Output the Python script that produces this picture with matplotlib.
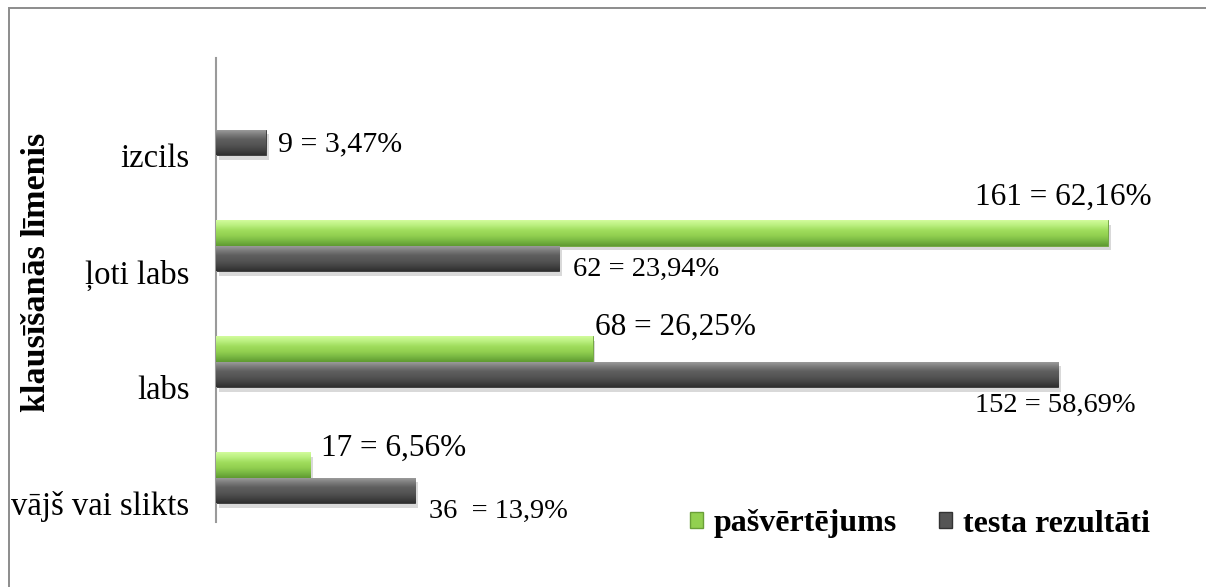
import numpy as np
import matplotlib.pyplot as plt
import matplotlib.patheffects as pe
from matplotlib.patches import Rectangle
from matplotlib.colors import LinearSegmentedColormap

categories = ['vājš vai slikts', 'labs', 'ļoti labs', 'izcils']
pasvertejums = [17, 68, 161, 0]
testa_rezultati = [36, 152, 62, 9]
pasv_labels = ['17 = 6,56%', '68 = 26,25%', '161 = 62,16%', '']
testa_labels = ['36  = 13,9%', '152 = 58,69%', '62 = 23,94%', '9 = 3,47%']

plt.rcParams['font.family'] = ['Liberation Serif', 'DejaVu Serif']

W, H = 1206, 587
fig = plt.figure(figsize=(W / 100, H / 100), dpi=100)

# outer chart border (only top and left visible in the reference)
fig.patches.append(Rectangle((9 / W, -0.1), 1.2, 1 - 8 / H + 0.1, transform=fig.transFigure,
                             fill=False, edgecolor='#8c8c8c', linewidth=1.4))

ax = fig.add_axes([216 / W, (H - 522) / H, 964 / W, 464 / H])

bh = 0.22
y = list(range(len(categories)))
y_green = [v + bh / 2 for v in y]
y_gray = [v - bh / 2 for v in y]

shadow = [pe.SimplePatchShadow(offset=(2, -3), alpha=0.22, shadow_rgbFace='#555555'), pe.Normal()]

green_cmap = LinearSegmentedColormap.from_list('g', ['#5f9a31', '#79b843', '#92d050', '#9fdc5c', '#b9ef7e', '#d2fb9c'])
gray_cmap = LinearSegmentedColormap.from_list('k', ['#2f2f2f', '#444444', '#555555', '#5e5e5e', '#7c7c7c', '#a0a0a0'])
grad = np.linspace(0, 1, 64).reshape(-1, 1)


def bevel_bars(ypos, vals, cmap, edge):
    bars = ax.barh(ypos, vals, height=bh, color=cmap(0.5), edgecolor=edge, linewidth=0.6, zorder=2)
    for b in bars:
        if b.get_width() <= 0:
            continue
        b.set_path_effects(shadow)
        x0, y0 = b.get_x(), b.get_y()
        im = ax.imshow(grad, cmap=cmap, extent=[x0, x0 + b.get_width(), y0, y0 + b.get_height()],
                       origin='lower', aspect='auto', zorder=3, interpolation='bilinear')
        im.set_clip_path(b)


bevel_bars(y_green, pasvertejums, green_cmap, '#6a9f38')
bevel_bars(y_gray, testa_rezultati, gray_cmap, '#333333')

ax.set_xlim(0, 964 / 5.54)
ax.set_ylim(-0.38, 3.62)

# value labels (offsets in points)
green_off = [(8, 12), (2, 16), (-32, 26), (0, 0)]
gray_off = [(10, -15), (-60, -22), (10, -8), (9, -1)]
for i in range(len(categories)):
    if pasv_labels[i]:
        ha = 'left' if green_off[i][0] >= 0 else 'center'
        ax.annotate(pasv_labels[i], (pasvertejums[i], y_green[i]), xytext=green_off[i],
                    textcoords='offset points', ha=ha, va='center', fontsize=22.5)
    ax.annotate(testa_labels[i], (testa_rezultati[i], y_gray[i]), xytext=gray_off[i],
                textcoords='offset points', ha='left', va='center',
                fontsize=21.5 if i == 3 else 20.5)

ax.set_yticks([v - 0.22 for v in y])
ax.set_yticklabels(categories, fontsize=23.5)
ax.tick_params(axis='y', length=0, pad=19)
ax.set_xticks([])
for s in ['top', 'right', 'bottom']:
    ax.spines[s].set_visible(False)
ax.spines['left'].set_color('#9a9a9a')
ax.spines['left'].set_linewidth(1.5)

fig.text(37 / W, 1 - 272 / H, 'klausīšanās līmenis', rotation=90, ha='center', va='center',
         fontsize=24.5, fontweight='bold')

handles = [Rectangle((0, 0), 1, 1, facecolor='#92d050', edgecolor='#6a9f38'),
           Rectangle((0, 0), 1, 1, facecolor='#555555', edgecolor='#333333')]
fig.legend(handles, ['pašvērtējums', 'testa rezultāti'], loc='center',
           bbox_to_anchor=(920 / W, 1 - 524 / H), ncol=2, frameon=False,
           prop={'weight': 'bold', 'size': 23}, handlelength=0.42, handleheight=0.42,
           handletextpad=0.35, columnspacing=1.3)

fig.savefig('out.png', dpi=100)
